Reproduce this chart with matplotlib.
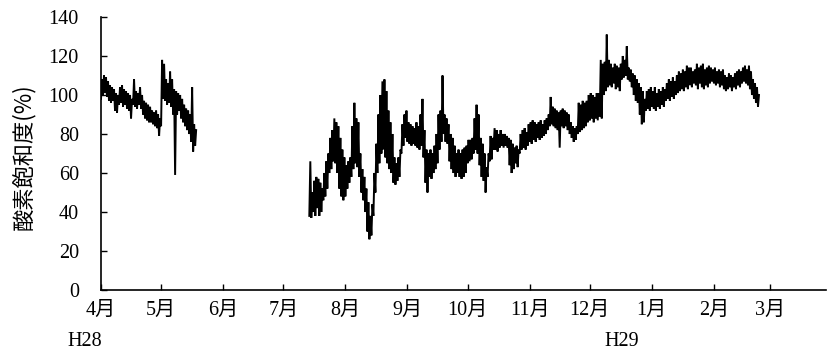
import matplotlib
matplotlib.use("Agg")
import matplotlib.pyplot as plt
import numpy as np

plt.rcParams['font.family'] = ['Liberation Serif', 'Noto Sans CJK JP', 'DejaVu Sans']

# Month labels and their offsets in days from 1 April (H28)
month_labels = ["4月", "5月", "6月", "7月", "8月", "9月", "10月", "11月", "12月", "1月", "2月", "3月"]
month_days = [0, 30, 61, 91, 122, 153, 183, 214, 244, 275, 306, 334]
y_ticks = [0, 20, 40, 60, 80, 100, 120, 140]

# Spring record: first day offset, then daily low / high saturation (%)
spring_start = 0
spring_low = [98, 100, 101, 99, 97, 96, 97, 92, 91, 95,
              96, 94, 95, 93, 92, 88, 95, 94, 93, 95,
              93, 90, 88, 87, 86, 86, 85, 84, 83, 79,
              84, 98, 97, 95, 96, 94, 90, 59, 90, 92,
              88, 86, 84, 82, 80, 76, 71, 74]
spring_high = [108, 110, 109, 107, 105, 104, 103, 101, 100, 104,
               105, 103, 102, 101, 100, 98, 108, 102, 101, 104,
               100, 97, 96, 95, 94, 92, 91, 92, 90, 88,
               118, 116, 108, 106, 112, 108, 103, 102, 101, 100,
               98, 95, 93, 92, 90, 104, 85, 82]

# Summer-to-winter record
main_start = 104
main_low = [38, 37, 40, 38, 42, 38, 40, 46, 48, 52,
            60, 62, 66, 65, 60, 52, 48, 46, 48, 52,
            55, 58, 62, 65, 63, 58, 50, 46, 40, 30,
            26, 28, 38, 50, 60, 65, 70, 72, 68, 65,
            62, 60, 55, 54, 56, 58, 70, 74, 78, 76,
            75, 74, 75, 74, 73, 72, 74, 68, 55, 50,
            58, 57, 60, 62, 65, 72, 76, 80, 76, 75,
            66, 62, 60, 58, 60, 58, 57, 58, 60, 65,
            66, 67, 70, 72, 70, 64, 58, 56, 50, 58,
            66, 67, 72, 72, 71, 73, 74, 73, 74, 73,
            64, 60, 62, 65, 63, 70, 72, 73, 72, 74,
            76, 75, 77, 76, 78, 77, 78, 79, 80, 82,
            84, 85, 84, 83, 82, 73, 84, 83, 84, 82,
            80, 78, 76, 77, 80, 81, 82, 83, 84, 86,
            87, 88, 86, 88, 87, 89, 88, 100, 102, 104,
            105, 104, 106, 103, 104, 102, 108, 109, 110, 108,
            107, 104, 100, 97, 96, 90, 85, 86, 92, 93,
            92, 94, 93, 92, 94, 93, 95, 94, 97, 98,
            97, 99, 98, 100, 101, 102, 103, 102, 104, 103,
            105, 104, 106, 105, 103, 106, 104, 103, 105, 104,
            106, 107, 106, 105, 106, 104, 105, 103, 102, 103,
            104, 102, 104, 103, 105, 104, 106, 107, 106, 105,
            103, 100, 98, 96, 94]
main_high = [66, 50, 56, 58, 57, 55, 52, 60, 66, 70,
             78, 82, 88, 86, 84, 78, 72, 68, 64, 66,
             68, 84, 96, 88, 86, 70, 62, 58, 52, 45,
             38, 44, 60, 75, 90, 100, 107, 108, 102, 92,
             86, 80, 68, 65, 68, 72, 85, 90, 92, 86,
             85, 84, 83, 86, 84, 90, 98, 82, 72, 70,
             72, 70, 74, 80, 90, 92, 110, 90, 88, 85,
             80, 78, 74, 70, 72, 70, 72, 73, 74, 77,
             77, 78, 88, 95, 90, 78, 75, 70, 63, 70,
             79, 78, 83, 82, 80, 82, 80, 80, 79, 78,
             77, 75, 73, 74, 72, 80, 82, 83, 81, 85,
             86, 87, 86, 85, 86, 87, 85, 87, 88, 90,
             99, 94, 93, 92, 91, 92, 93, 92, 91, 90,
             86, 84, 83, 84, 96, 95, 97, 96, 97, 100,
             101, 100, 99, 101, 101, 118, 116, 117, 131, 118,
             116, 114, 116, 115, 114, 116, 120, 118, 125, 114,
             113, 111, 110, 108, 106, 104, 102, 98, 102, 103,
             104, 102, 104, 101, 103, 102, 104, 103, 106, 108,
             107, 109, 107, 110, 112, 111, 113, 112, 115, 114,
             114, 112, 113, 116, 114, 115, 116, 113, 114, 115,
             114, 113, 114, 112, 113, 112, 113, 110, 109, 111,
             110, 109, 111, 112, 113, 112, 114, 115, 113, 115,
             112, 108, 106, 104, 100]


def zigzag(start, lows, highs):
    """Alternate each day's low and high reading to trace the daily swing."""
    xs, ys = [], []
    for i, (lo, hi) in enumerate(zip(lows, highs)):
        d = start + i
        xs += [d, d + 0.5]
        ys += [lo, hi]
    return np.array(xs), np.array(ys)


W, H = 828, 356
fig = plt.figure(figsize=(W / 100, H / 100), dpi=100)
ax = fig.add_axes([101 / W, 66 / H, 725 / W, 273 / H])

for start, lo, hi in [(spring_start, spring_low, spring_high),
                      (main_start, main_low, main_high)]:
    x, y = zigzag(start, lo, hi)
    ax.plot(x, y, color='black', lw=1.4, solid_joinstyle='miter')

ax.set_xlim(0, 725 / 2.003)
ax.set_ylim(0, 140)
ax.set_xticks(month_days)
ax.set_xticklabels(month_labels)
ax.set_yticks(y_ticks)

for side in ['top', 'right']:
    ax.spines[side].set_visible(False)
for side in ['left', 'bottom']:
    ax.spines[side].set_linewidth(1.2)

ax.tick_params(axis='x', direction='in', length=4, width=1.0, pad=8, labelsize=14.5)
ax.tick_params(axis='y', direction='in', length=4, width=1.0, pad=16, labelsize=14.5)

ax.set_ylabel("酸素飽和度(%)", fontsize=16,
              family=['Noto Sans CJK JP', 'DejaVu Sans'])
ax.yaxis.set_label_coords(-66 / 725, 0.49)

fig.text(67 / W, 1 - 341 / H, "H28", fontsize=14.5, ha='left', va='center')
fig.text(622 / W, 1 - 341 / H, "H29", fontsize=14.5, ha='center', va='center')

fig.savefig("out.png", dpi=100)
